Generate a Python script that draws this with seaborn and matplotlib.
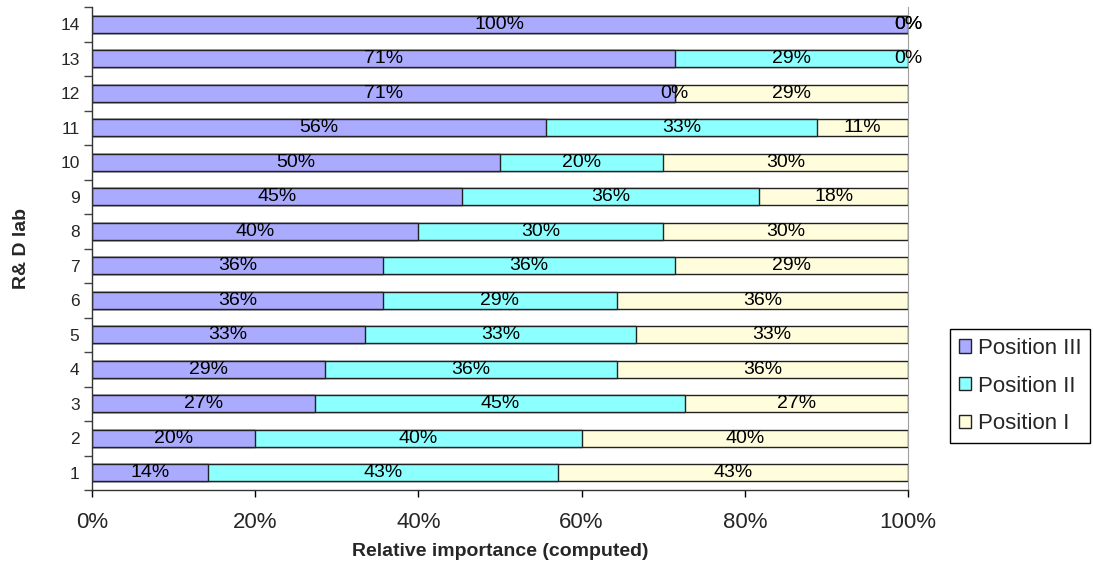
import numpy as np
import pandas as pd
import matplotlib
matplotlib.use("Agg")
import matplotlib.pyplot as plt
from matplotlib.ticker import FixedLocator, PercentFormatter
from matplotlib.patches import Patch
import seaborn as sns

# R&D labs and the share of each position (percent of lab total)
labs = [str(i) for i in range(1, 15)]
position_iii = [14.2, 20.0, 27.3, 28.6, 33.4, 35.7, 35.7, 40.0, 45.4, 50.0, 55.6, 71.4, 71.4, 100.0]
position_ii = [42.9, 40.0, 45.4, 35.7, 33.3, 28.6, 35.7, 30.0, 36.4, 20.0, 33.3, 0.0, 28.6, 0.0]
position_i = [42.9, 40.0, 27.3, 35.7, 33.3, 35.7, 28.6, 30.0, 18.2, 30.0, 11.1, 28.6, 0.0, 0.0]
series_names = ["Position III", "Position II", "Position I"]
series_colors = ["#AAAAFF", "#8CFFFF", "#FFFDDC"]
x_ticks = [0, 20, 40, 60, 80, 100]

sns.set_style("white")
plt.rcParams["font.family"] = ["Liberation Sans", "DejaVu Sans"]

df = pd.DataFrame({"lab": labs, "III": position_iii, "II": position_ii, "I": position_i})
df["end_iii"] = df["III"]
df["end_ii"] = df["III"] + df["II"]
df["end_i"] = df["III"] + df["II"] + df["I"]
order = labs[::-1]  # lab 14 at the top

fig = plt.figure(figsize=(10.93, 5.64), dpi=100)
ax = fig.add_axes([92 / 1093, 1 - 490 / 564, 816 / 1093, 483 / 564])

edge = "#222222"
# stacked bars: draw cumulative totals from the widest down
for col, color in zip(["end_i", "end_ii", "end_iii"], series_colors[::-1]):
    sns.barplot(data=df, x=col, y="lab", order=order, orient="h", color=color,
                saturation=1, edgecolor=edge, linewidth=1.0, width=0.48, ax=ax)

# segment labels centred in each segment
pos = {lab: i for i, lab in enumerate(order)}
for _, row in df.iterrows():
    starts = [0, row["end_iii"], row["end_ii"]]
    vals = [row["III"], row["II"], row["I"]]
    for s, v in zip(starts, vals):
        ax.text(s + v / 2, pos[row["lab"]], f"{v:.0f}%", ha="center", va="center",
                fontsize=14, color="black", clip_on=False)

ax.set_xlim(0, 100)
ax.set_ylim(13.5, -0.5)
ax.xaxis.set_major_locator(FixedLocator(x_ticks))
ax.xaxis.set_major_formatter(PercentFormatter(100, decimals=0))
ax.tick_params(axis="x", which="major", direction="out", length=5, width=1,
               color="black", labelsize=16, pad=11, bottom=True)
ax.yaxis.set_minor_locator(FixedLocator(np.arange(-0.5, 14, 1)))
ax.tick_params(axis="y", which="major", length=0, labelsize=12.5, pad=9, left=True)
ax.tick_params(axis="y", which="minor", direction="out", length=6, width=1,
               color="#444444", left=True)

for side in ["left", "bottom"]:
    ax.spines[side].set_color("#333333")
    ax.spines[side].set_linewidth(1.0)
ax.spines["right"].set_color("#A0A0A0")
ax.spines["top"].set_visible(False)

ax.set_xlabel("Relative importance (computed)", fontsize=14, fontweight="bold", labelpad=7)
ax.set_ylabel("R& D lab", fontsize=14, fontweight="bold", labelpad=22)

handles = [Patch(facecolor=c, edgecolor=edge, linewidth=1.0) for c in series_colors]
fig.legend(handles, series_names, loc="upper left",
           bbox_to_anchor=(950 / 1093, 1 - 329 / 564), borderaxespad=0, fontsize=16,
           frameon=True, fancybox=False, edgecolor="black", framealpha=1,
           handlelength=0.55, handleheight=0.55, handletextpad=0.3,
           labelspacing=0.75, borderpad=0.4)

fig.savefig("out.png", dpi=100)
